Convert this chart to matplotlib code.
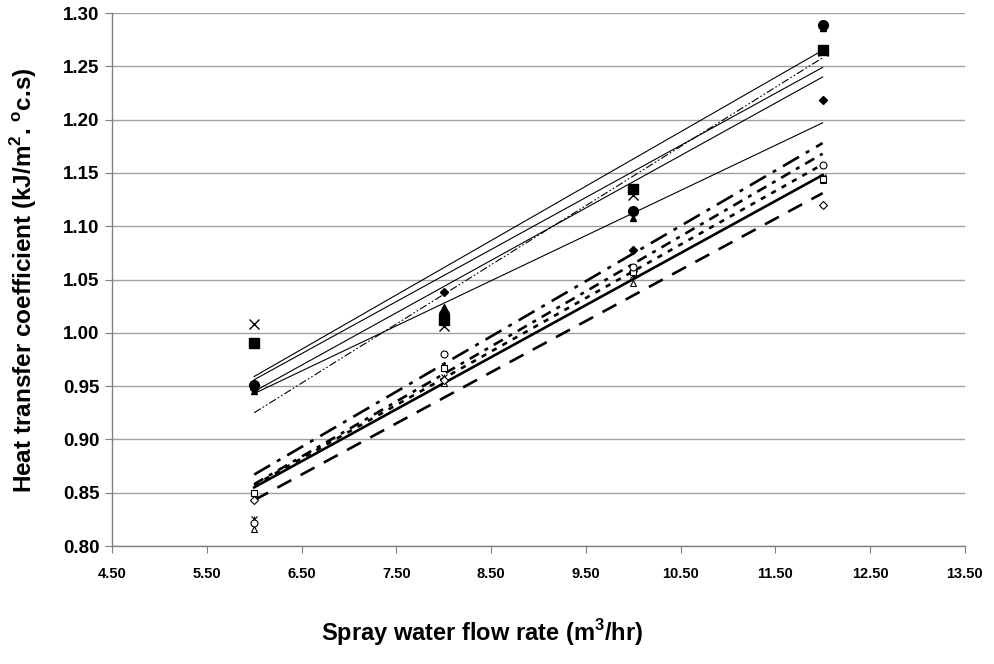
import matplotlib
matplotlib.use("Agg")
import matplotlib.pyplot as plt

plt.rcParams["font.family"] = ["Liberation Sans", "DejaVu Sans"]
plt.rcParams["mathtext.fontset"] = "custom"
plt.rcParams["mathtext.rm"] = "Liberation Sans"
plt.rcParams["mathtext.bf"] = "Liberation Sans:bold"

# spray water flow rate (m3/hr)
flow = [6, 8, 10, 12]

# upper group - filled markers
sq_filled = [0.990, 1.012, 1.135, 1.265]
tri_filled = [0.945, 1.024, 1.108, 1.286]
x_mark = [1.008, 1.006, 1.129, 1.264]
diam_filled = [0.947, 1.038, 1.078, 1.218]
circ_filled = [0.951, 1.018, 1.114, 1.289]

# lower group - open markers
open_tri = [0.816, 0.953, 1.047, 1.143]
star_mark = [0.825, 0.959, 1.054, 1.146]
open_diam = [0.843, 0.956, 1.058, 1.120]
open_sq = [0.850, 0.967, 1.057, 1.144]
open_circ = [0.822, 0.980, 1.062, 1.157]

# trend lines read at x=6 and x=12
upper_fit_start = [0.959, 0.956, 0.945, 0.943, 0.925]
upper_fit_end = [1.265, 1.249, 1.240, 1.197, 1.258]
lower_fit_start = [0.867, 0.858, 0.857, 0.855, 0.843]
lower_fit_end = [1.178, 1.168, 1.158, 1.148, 1.131]

x_ticks = [4.5, 5.5, 6.5, 7.5, 8.5, 9.5, 10.5, 11.5, 12.5, 13.5]
y_ticks = [0.80, 0.85, 0.90, 0.95, 1.00, 1.05, 1.10, 1.15, 1.20, 1.25, 1.30]

fig = plt.figure(figsize=(9.95, 6.64), dpi=100)
ax = fig.add_axes([0.1126, 0.1777, 0.857, 0.8027])

upper_styles = ["-", "-", "-", "-", (0, (7, 2, 1.5, 2, 1.5, 2))]
lower_styles = [(0, (7, 3, 1.5, 3)), (0, (4, 2.5, 1.5, 2.5)),
                (0, (2, 2.5)), "-", (0, (6, 4))]

ends = [flow[0], flow[-1]]
for s, e, ls in zip(upper_fit_start, upper_fit_end, upper_styles):
    ax.plot(ends, [s, e], color="black", lw=0.8, linestyle=ls, zorder=3)
for s, e, ls in zip(lower_fit_start, lower_fit_end, lower_styles):
    ax.plot(ends, [s, e], color="black", lw=1.9, linestyle=ls, zorder=3)

# markers
ax.plot(flow, tri_filled, "^", color="black", ms=5, ls="none", zorder=4)
ax.plot(flow, x_mark, "x", color="black", ms=7, mew=1.0, ls="none", zorder=4)
ax.plot(flow, diam_filled, "D", color="black", ms=4.5, ls="none", zorder=4)
ax.plot(flow, sq_filled, "s", color="black", ms=6.5, ls="none", zorder=5)
ax.plot(flow, circ_filled, "o", color="black", ms=7, ls="none", zorder=5)

ax.plot(flow, open_tri, "^", mfc="white", mec="black", ms=5, mew=0.8, ls="none", zorder=4)
ax.plot(flow, star_mark, "x", color="black", ms=5, mew=0.8, ls="none", zorder=4)
ax.plot(flow, star_mark, "|", color="black", ms=5, mew=0.8, ls="none", zorder=4)
ax.plot(flow, open_diam, "D", mfc="white", mec="black", ms=4, mew=0.8, ls="none", zorder=4)
ax.plot(flow, open_sq, "s", mfc="white", mec="black", ms=5, mew=0.8, ls="none", zorder=4)
ax.plot(flow, open_circ, "o", mfc="white", mec="black", ms=5, mew=0.8, ls="none", zorder=4)

ax.set_xlim(4.5, 13.5)
ax.set_ylim(0.80, 1.30)
ax.set_xticks(x_ticks)
ax.set_xticklabels([f"{v:.2f}" for v in x_ticks])
ax.set_yticks(y_ticks)
ax.set_yticklabels([f"{v:.2f}" for v in y_ticks])

ax.grid(axis="y", color="#a0a0a0", lw=1.0)
ax.set_axisbelow(True)
for side in ["top", "right"]:
    ax.spines[side].set_visible(False)
for side in ["left", "bottom"]:
    ax.spines[side].set_color("#808080")
    ax.spines[side].set_linewidth(1.0)
ax.tick_params(axis="both", direction="out", length=5, color="#808080")
ax.tick_params(axis="x", pad=10)
ax.tick_params(axis="y", pad=4)

for lab in ax.get_xticklabels():
    lab.set_fontweight("bold")
    lab.set_fontsize(10.5)
for lab in ax.get_yticklabels():
    lab.set_fontweight("bold")
    lab.set_fontsize(13.5)

fig.text(0.485, 0.048, r"Spray water flow rate (m$^{\mathbf{3}}$/hr)",
         ha="center", va="center", fontsize=17, fontweight="bold")
fig.text(0.024, 0.578, r"Heat transfer coefficient (kJ/m$^{\mathbf{2}}$. $^{\mathbf{o}}$c.s)",
         ha="center", va="center", rotation=90, fontsize=17.5, fontweight="bold")

fig.savefig("out.png", dpi=100)
